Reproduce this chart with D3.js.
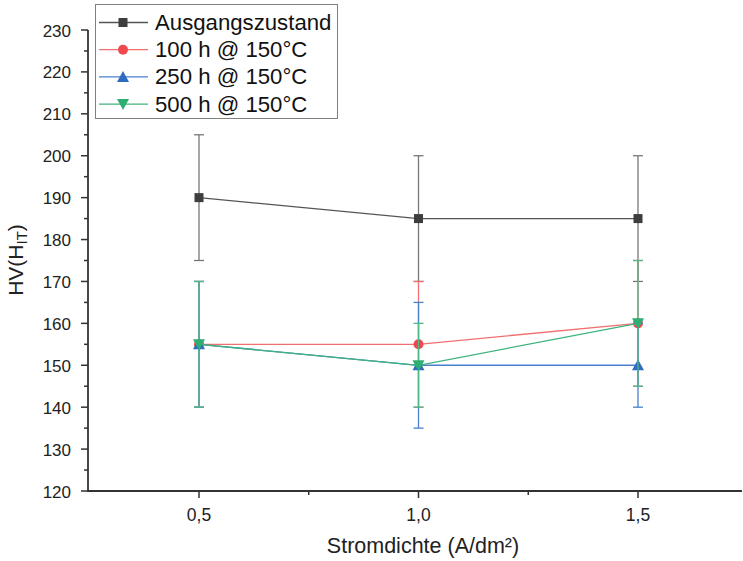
<!DOCTYPE html>
<html><head><meta charset="utf-8">
<script src="https://cdn.jsdelivr.net/npm/d3@7"></script>
<style>body{margin:0;background:#fff}svg{display:block;font-family:"Liberation Sans",Arial,sans-serif}</style>
</head><body><svg id="c" width="743" height="561"></svg>
<script>
const xValues = [0.5, 1.0, 1.5];
const xTickLabels = ["0,5", "1,0", "1,5"];
const yTicks = [120,130,140,150,160,170,180,190,200,210,220,230];
const seriesNames = ["Ausgangszustand", "100 h @ 150°C", "250 h @ 150°C", "500 h @ 150°C"];
const ausgangValues = [190, 185, 185];
const ausgangErr = [15, 15, 15];
const h100Values = [155, 155, 160];
const h100Err = [15, 15, 15];
const h250Values = [155, 150, 150];
const h250Err = [15, 15, 10];
const h500Values = [155, 150, 160];
const h500Err = [15, 10, 15];

const series = [
  {name: seriesNames[0], v: ausgangValues, e: ausgangErr, line: "#555", err: "#777", fill: "#3d3d3d", shape: "square"},
  {name: seriesNames[1], v: h100Values, e: h100Err, line: "#f07070", err: "#f07070", fill: "#ee4a4d", shape: "circle"},
  {name: seriesNames[2], v: h250Values, e: h250Err, line: "#4a80cc", err: "#4a80cc", fill: "#2f6cbf", shape: "up"},
  {name: seriesNames[3], v: h500Values, e: h500Err, line: "#3fb37c", err: "#4dba88", fill: "#2fae74", shape: "down"}
];

const svg = d3.select("#c");
const x = d3.scaleLinear().domain([0.5, 1.5]).range([199, 638]);
const y = d3.scaleLinear().domain([120, 230]).range([491, 30]);
const x0 = 88;

// axes
const axisColor = "#333";
const gx = svg.append("g").attr("transform", `translate(0,491)`);
gx.append("line").attr("x1", x0).attr("x2", 742).attr("y1", 0).attr("y2", 0).attr("stroke", axisColor).attr("stroke-width", 1.8);
[0.75,1.25].forEach(t=>{ gx.append("line").attr("x1",x(t)).attr("x2",x(t)).attr("y1",0).attr("y2",4).attr("stroke",axisColor).attr("stroke-width",1.5); });
xValues.forEach((t,i)=>{
  gx.append("line").attr("x1",x(t)).attr("x2",x(t)).attr("y1",0).attr("y2",7).attr("stroke",axisColor).attr("stroke-width",1.5);
  gx.append("text").attr("x",x(t)).attr("y",30).attr("text-anchor","middle").attr("font-size",17.5).attr("fill","#222").text(xTickLabels[i]);
});
const gy = svg.append("g");
gy.append("line").attr("x1", x0).attr("x2", x0).attr("y1", y(230)).attr("y2", 492).attr("stroke", axisColor).attr("stroke-width", 1.8);
for (let v = 125; v < 230; v += 10) {
  gy.append("line").attr("x1",x0-4).attr("x2",x0).attr("y1",y(v)).attr("y2",y(v)).attr("stroke",axisColor).attr("stroke-width",1.5);
}
yTicks.forEach(t=>{
  gy.append("line").attr("x1",x0-7).attr("x2",x0).attr("y1",y(t)).attr("y2",y(t)).attr("stroke",axisColor).attr("stroke-width",1.5);
  gy.append("text").attr("x",x0-17).attr("y",y(t)+6.5).attr("text-anchor","end").attr("font-size",17).attr("fill","#222").text(t);
});

// axis titles
svg.append("text").attr("x", 423).attr("y", 553).attr("text-anchor","middle").attr("font-size",21.5).attr("fill","#222").text("Stromdichte (A/dm²)");
const yt = svg.append("text").attr("transform","translate(23,260) rotate(-90)").attr("text-anchor","middle").attr("font-size",21).attr("fill","#222");
yt.append("tspan").text("HV(H");
yt.append("tspan").attr("font-size",15).attr("dy",4).text("IT");
yt.append("tspan").attr("dy",-4).text(")");

function marker(g, shape, cx, cy, fill) {
  if (shape === "square") g.append("rect").attr("x",cx-4.5).attr("y",cy-4.5).attr("width",9).attr("height",9).attr("fill",fill);
  else if (shape === "circle") g.append("circle").attr("cx",cx).attr("cy",cy).attr("r",5).attr("fill",fill);
  else if (shape === "up") g.append("path").attr("d",`M${cx},${cy-6}L${cx+6},${cy+5}L${cx-6},${cy+5}Z`).attr("fill",fill);
  else g.append("path").attr("d",`M${cx},${cy+6}L${cx+6},${cy-5}L${cx-6},${cy-5}Z`).attr("fill",fill);
}

// series
series.forEach(s=>{
  const g = svg.append("g");
  g.append("path").datum(s.v).attr("fill","none").attr("stroke",s.line).attr("stroke-width",1.3)
    .attr("d", d3.line().x((d,i)=>x(xValues[i])).y(d=>y(d)));
  s.v.forEach((d,i)=>{
    const cx = x(xValues[i]), lo = y(d - s.e[i]), hi = y(d + s.e[i]);
    g.append("line").attr("x1",cx).attr("x2",cx).attr("y1",lo).attr("y2",hi).attr("stroke",s.err).attr("stroke-width",1.3);
    [lo,hi].forEach(yy=>g.append("line").attr("x1",cx-5).attr("x2",cx+5).attr("y1",yy).attr("y2",yy).attr("stroke",s.err).attr("stroke-width",1.3));
  });
  s.v.forEach((d,i)=>marker(g, s.shape, x(xValues[i]), y(d), s.fill));
});

// legend
const lg = svg.append("g");
lg.append("rect").attr("x",95.5).attr("y",4.5).attr("width",242).attr("height",114).attr("fill","#fff").attr("stroke","#808080").attr("stroke-width",1);
series.forEach((s,i)=>{
  const yy = 22.5 + i*27.2;
  lg.append("line").attr("x1",99).attr("x2",148).attr("y1",yy).attr("y2",yy).attr("stroke",s.line).attr("stroke-width",1.3);
  marker(lg, s.shape, 123, yy, s.fill);
  lg.append("text").attr("x",155).attr("y",yy+7.5).attr("font-size",22.2).attr("fill","#111").text(s.name);
});
</script></body></html>
